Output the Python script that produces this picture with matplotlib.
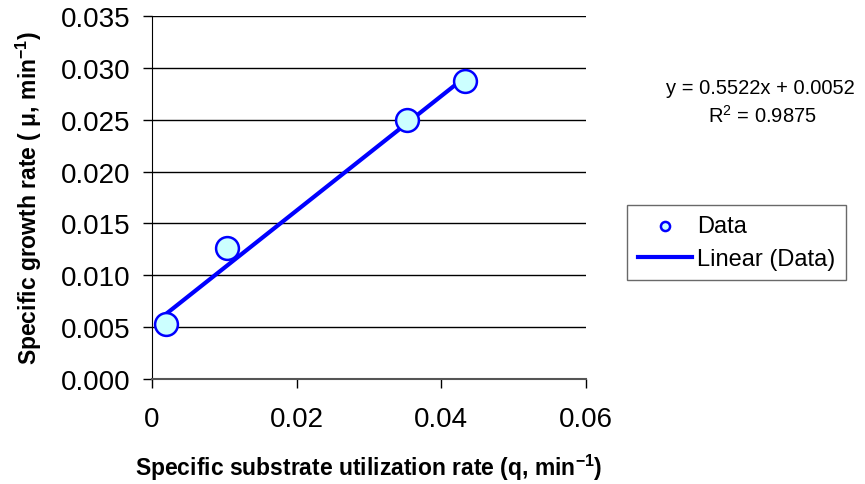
import matplotlib

matplotlib.use("Agg")

import matplotlib.pyplot as plt
import numpy as np

plt.rcParams["font.family"] = ["Liberation Sans", "DejaVu Sans"]
plt.rcParams["mathtext.fontset"] = "custom"
plt.rcParams["mathtext.rm"] = "Liberation Sans"
plt.rcParams["mathtext.bf"] = "Liberation Sans:bold"

# substrate utilization rate q vs growth rate mu
q_rate = [0.0020, 0.0104, 0.0352, 0.0433]
mu_rate = [0.0053, 0.0126, 0.0250, 0.0287]

# Excel-style trendline reported on the chart
fit_slope = 0.5522
fit_intercept = 0.0052
fit_r2 = 0.9875

y_ticks = [0.000, 0.005, 0.010, 0.015, 0.020, 0.025, 0.030, 0.035]
x_ticks = [0, 0.02, 0.04, 0.06]
x_tick_labels = ["0", "0.02", "0.04", "0.06"]

fig = plt.figure(figsize=(8.65, 4.85), dpi=100)
ax = fig.add_axes([0.1757, 0.2165, 0.5018, 0.7485])

for yv in y_ticks[1:]:
    ax.axhline(yv, color="black", linewidth=1.0, zorder=1)

fit_x = np.array([min(q_rate), max(q_rate)])
fit_y = fit_slope * fit_x + fit_intercept
ax.plot(fit_x, fit_y, color="#0000FF", linewidth=3, zorder=3, label="Linear (Data)")
ax.scatter(q_rate, mu_rate, s=270, facecolor="#CCFFFF", edgecolor="#0000FF",
           linewidth=1.8, zorder=4, label="Data")

ax.set_xlim(0, 0.06)
ax.set_ylim(0, 0.035)
ax.set_xticks(x_ticks)
ax.set_xticklabels(x_tick_labels)
ax.set_yticks(y_ticks)
ax.set_yticklabels([f"{v:.3f}" for v in y_ticks])
ax.tick_params(axis="both", direction="out", length=6.5, width=1, labelsize=20, colors="black")
ax.tick_params(axis="x", pad=13)
ax.tick_params(axis="y", pad=9)

for side in ("top", "right"):
    ax.spines[side].set_visible(False)
ax.spines["left"].set_color("black")
ax.spines["bottom"].set_color("#555555")
ax.spines["bottom"].set_linewidth(1.5)

ax.set_xlabel("Specific substrate utilization rate (q, min$^{\\mathbf{-1}}$)",
              fontsize=16.5, fontweight="bold", labelpad=14)
ax.set_ylabel("Specific growth rate ( \u03bc, min$^{\\mathbf{-1}}$)",
              fontsize=16.5, fontweight="bold", labelpad=12)

fig.text(0.879, 0.818, f"y = {fit_slope}x + {fit_intercept}", fontsize=14.5,
         ha="center", va="center")
fig.text(0.881, 0.762, f"R$^2$ = {fit_r2}", fontsize=14.5, ha="center", va="center")

handles, labels = ax.get_legend_handles_labels()
leg = fig.legend(handles[::-1], labels[::-1], loc="center left",
                 bbox_to_anchor=(0.725, 0.498), fontsize=17, frameon=True,
                 fancybox=False, edgecolor="#444444", markerscale=0.4,
                 handlelength=2.3, handletextpad=0.2, borderpad=0.45,
                 labelspacing=0.45, borderaxespad=0)
leg.get_frame().set_linewidth(1.0)

fig.savefig("out.png", dpi=100)
